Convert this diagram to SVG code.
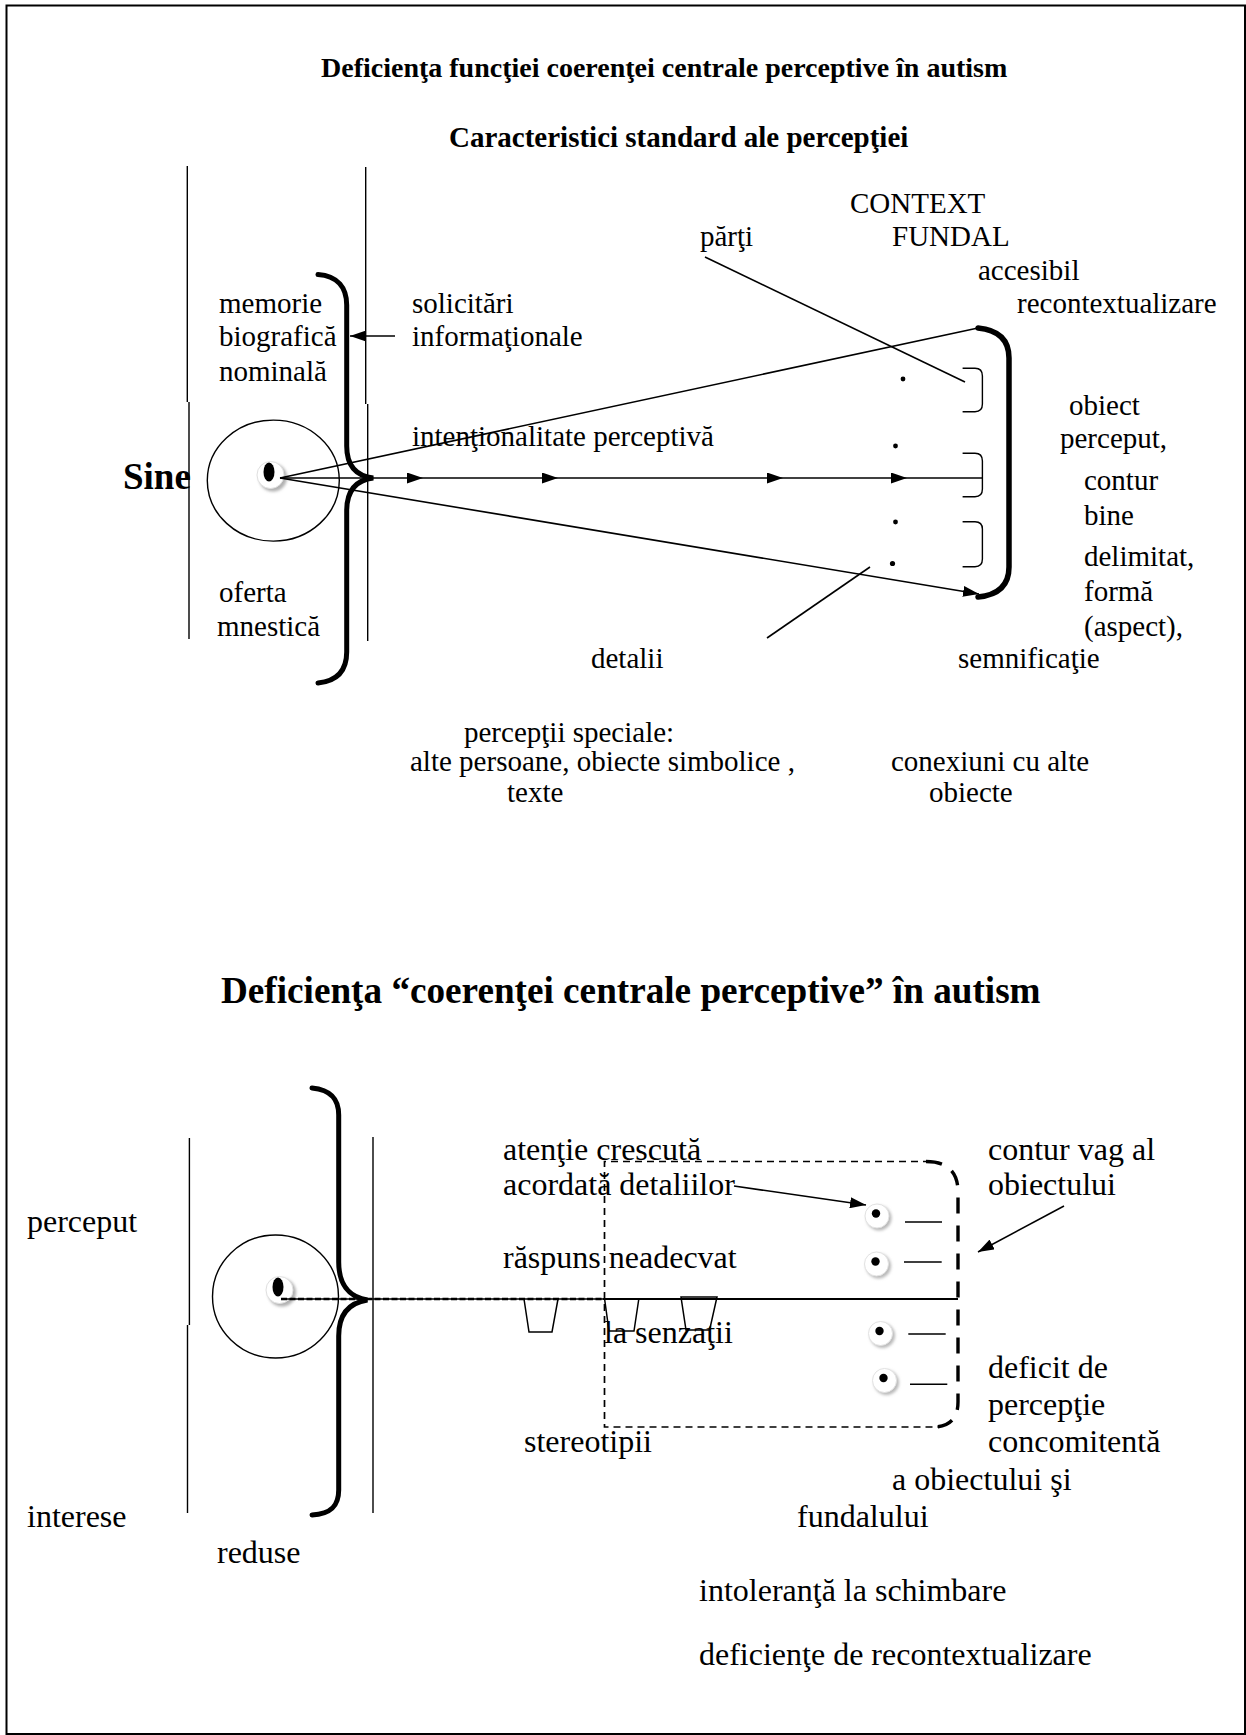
<svg xmlns="http://www.w3.org/2000/svg" xmlns:xlink="http://www.w3.org/1999/xlink" width="1246" height="1735" viewBox="0 0 1246 1735">
<style>
.t{font-family:"Liberation Serif","Times New Roman",serif;font-size:29px;fill:#000}
.lg{font-size:32px}
.b{font-weight:bold}
.ln{stroke:#000;stroke-width:1.6;fill:none}
.thin{stroke:#000;stroke-width:1.4;fill:none}
.brace{stroke:#000;stroke-width:5;fill:none;stroke-linecap:round}
.dot{fill:#000}
.cup{stroke:#000;stroke-width:1.5;fill:none}
.dthin{stroke:#000;stroke-width:1.7;fill:none;stroke-dasharray:7 5}
.dthick{stroke:#000;stroke-width:3.4;fill:none;stroke-dasharray:16 12}
</style>
<defs>
<marker id="ah" viewBox="0 0 16 11" refX="16" refY="5.5" markerWidth="16" markerHeight="11" markerUnits="userSpaceOnUse" orient="auto">
<path d="M0,0 L16,5.5 L0,11 z" fill="#000"/>
</marker>
<filter id="sh" x="-50%" y="-50%" width="200%" height="200%"><feGaussianBlur stdDeviation="1.6"/></filter>
<g id="eyeS">
<circle cx="3" cy="4.5" r="12.5" fill="#b8b8b8" filter="url(#sh)"/>
<circle cx="1" cy="2.5" r="12" fill="#fff" stroke="#e2e2e2" stroke-width="1"/>
<circle cx="0" cy="0" r="4.2" fill="#000"/>
</g>
<g id="eyeL">
<circle cx="4" cy="5.5" r="14" fill="#b0b0b0" filter="url(#sh)"/>
<circle cx="1.5" cy="3" r="13.5" fill="#fff" stroke="#e0e0e0" stroke-width="1"/>
<ellipse cx="0" cy="0" rx="5.5" ry="9.5" fill="#000"/>
</g>
</defs>

<rect x="0" y="0" width="1246" height="1735" fill="#fff"/>
<rect id="frame" x="6.5" y="5.5" width="1238.5" height="1728.5" fill="none" stroke="#000" stroke-width="2"/>

<!-- Titles -->
<g id="title1"><text class="t b" x="321" y="77" style="font-size:28px">Deficienţa funcţiei coerenţei centrale perceptive în autism</text></g>
<g id="subtitle1"><text class="t b" x="449" y="147">Caracteristici standard ale percepţiei</text></g>
<g id="title2"><text class="t b" x="221" y="1003" style="font-size:37.2px">Deficienţa “coerenţei centrale perceptive” în autism</text></g>

<!-- ===== Top section ===== -->
<g id="top-walls">
<path class="thin" d="M187.3,166 V402 M189,402 V639"/>
<path class="thin" d="M365.7,167 V404 M367.7,404 V641"/>
</g>
<g id="self">
<text class="t b" x="123" y="489" style="font-size:37px">Sine</text>
<ellipse cx="273.3" cy="480.6" rx="66" ry="60.5" class="thin"/>
<use xlink:href="#eyeL" transform="translate(269,472)"/>
</g>
<g id="top-brace">
<path class="brace" d="M318,274.5 C338,276 346.7,288 346.7,305 L346.7,446 C346.7,466 356,476 373.3,478 C356,480 346.7,491 346.7,511 L346.7,652 C346.7,670 338,681 318,683"/>
</g>
<g id="memory">
<text class="t" x="219" y="313">memorie</text>
<text class="t" x="219" y="346">biografică</text>
<text class="t" x="219" y="381">nominală</text>
<text class="t" x="219" y="602">oferta</text>
<text class="t" x="217" y="636">mnestică</text>
</g>
<g id="requests">
<text class="t" x="412" y="313">solicitări</text>
<text class="t" x="412" y="346">informaţionale</text>
</g>
<g id="intent"><text class="t" x="412" y="446">intenţionalitate perceptivă</text></g>
<g id="context">
<text class="t" x="850" y="213">CONTEXT</text>
<text class="t" x="892" y="246">FUNDAL</text>
<text class="t" x="700" y="246">părţi</text>
<text class="t" x="978" y="280">accesibil</text>
<text class="t" x="1017" y="313">recontextualizare</text>
</g>
<g id="object-text">
<text class="t" x="1069" y="415">obiect</text>
<text class="t" x="1060" y="448">perceput,</text>
<text class="t" x="1084" y="490">contur</text>
<text class="t" x="1084" y="525">bine</text>
<text class="t" x="1084" y="566">delimitat,</text>
<text class="t" x="1084" y="601">formă</text>
<text class="t" x="1084" y="636">(aspect),</text>
<text class="t" x="958" y="668">semnificaţie</text>
</g>
<g id="details-text"><text class="t" x="591" y="668">detalii</text></g>
<g id="special">
<text class="t" x="464" y="742">percepţii speciale:</text>
<text class="t" x="410" y="771">alte persoane, obiecte simbolice ,</text>
<text class="t" x="507" y="802">texte</text>
</g>
<g id="connections">
<text class="t" x="891" y="771">conexiuni cu alte</text>
<text class="t" x="929" y="802">obiecte</text>
</g>
<g id="object-bracket">
<path class="brace" style="stroke-width:5.5" d="M978,328 C999,330 1009,340 1009,358 L1009,567 C1009,585 999,595 978,597"/>
<path class="thin" d="M962.6,368.3 H975 Q982.4,368.3 982.4,376 V404 Q982.4,411.7 975,411.7 H962.6"/>
<path class="thin" d="M962.6,453.3 H975 Q982.4,453.3 982.4,461 V489 Q982.4,496.7 975,496.7 H962.6"/>
<path class="thin" d="M962.6,521.7 H975 Q982.4,521.7 982.4,529 V559 Q982.4,566.7 975,566.7 H962.6"/>
<circle class="dot" cx="903" cy="379" r="2.4"/>
<circle class="dot" cx="895.5" cy="446" r="2.4"/>
<circle class="dot" cx="895.5" cy="522" r="2.4"/>
<circle class="dot" cx="892.5" cy="563.5" r="2.6"/>
</g>

<!-- ===== Bottom section ===== -->
<g id="bottom-walls">
<path class="thin" d="M189.4,1138 V1325 M187.5,1325 V1513"/>
<path class="thin" d="M373,1137 V1513"/>
</g>
<g id="self2">
<ellipse cx="275.5" cy="1296.5" rx="63" ry="61.5" class="thin"/>
<use xlink:href="#eyeL" transform="translate(278,1287)"/>
</g>
<g id="bottom-brace">
<path class="brace" d="M312,1088 C332,1090 338.7,1100 338.7,1115 L338.7,1262 C338.7,1283 348,1297 367.4,1300 C348,1303 338.7,1315 338.7,1336 L338.7,1490 C338.7,1505 332,1514 312,1515"/>
</g>
<g id="left-labels">
<text class="t lg" x="27" y="1232">perceput</text>
<text class="t lg" x="27" y="1527">interese</text>
<text class="t lg" x="217" y="1563">reduse</text>
</g>
<g id="object-box">
<path class="dthin" d="M930,1161.5 H604.5 V1427 H938"/>
<path class="dthick" d="M926,1161.5 Q958,1161.5 958,1192 V1402 Q958,1425 936,1427"/>
</g>
<g id="cups">
<path class="cup" d="M524,1299 L529,1332 H552 L558,1299"/>
<path class="cup" d="M604.6,1299 L609,1331 H634 L638.8,1299"/>
<path class="cup" d="M681,1297 H717 L709.6,1330 H686 Z"/>
</g>
<g id="detail-eyes">
<use xlink:href="#eyeS" transform="translate(876,1213.5)"/>
<use xlink:href="#eyeS" transform="translate(875.5,1261.5)"/>
<use xlink:href="#eyeS" transform="translate(879.5,1331)"/>
<use xlink:href="#eyeS" transform="translate(883.5,1378)"/>
<path class="ln" d="M905,1222 H942 M904,1262 H941.7 M908.3,1334 H945.7 M910,1384.3 H947.3"/>
</g>
<g id="bottom-texts">
<text class="t lg" x="503" y="1160">atenţie crescută</text>
<text class="t lg" x="503" y="1195">acordată detaliilor</text>
<text class="t lg" x="503" y="1268">răspuns neadecvat</text>
<text class="t lg" x="604" y="1343">la senzaţii</text>
<text class="t lg" x="524" y="1452">stereotipii</text>
<text class="t lg" x="988" y="1160">contur vag al</text>
<text class="t lg" x="988" y="1195">obiectului</text>
<text class="t lg" x="988" y="1378">deficit de</text>
<text class="t lg" x="988" y="1415">percepţie</text>
<text class="t lg" x="988" y="1452">concomitentă</text>
<text class="t lg" x="892" y="1490">a obiectului şi</text>
<text class="t lg" x="797" y="1527">fundalului</text>
<text class="t lg" x="699" y="1601">intoleranţă la schimbare</text>
<text class="t lg" x="699" y="1665">deficienţe de recontextualizare</text>
</g>

<!-- ===== Connectors ===== -->
<g id="connectors">
<path class="ln" d="M395,336 H350" marker-end="url(#ah)"/>
<path class="ln" d="M280,478 H423" marker-end="url(#ah)"/>
<path class="ln" d="M423,478 H558" marker-end="url(#ah)"/>
<path class="ln" d="M558,478 H783" marker-end="url(#ah)"/>
<path class="ln" d="M783,478 H907" marker-end="url(#ah)"/>
<path class="ln" d="M907,478 H982.4"/>
<path class="ln" d="M280,478 L978,328"/>
<path class="ln" d="M280,478 L979,594" marker-end="url(#ah)"/>
<path class="ln" d="M705,257 L965,382"/>
<path class="ln" d="M767,638 L870,567"/>
<path class="thin" d="M281,1299 H603"/>
<path class="ln" style="stroke-width:2.4;stroke-dasharray:6 2.5" d="M281,1299 H603"/>
<path class="ln" style="stroke-width:2" d="M603,1299 H958"/>
<path class="ln" d="M734,1186 L866,1205" marker-end="url(#ah)"/>
<path class="ln" d="M1064,1206 L978,1252" marker-end="url(#ah)"/>
</g>
</svg>
